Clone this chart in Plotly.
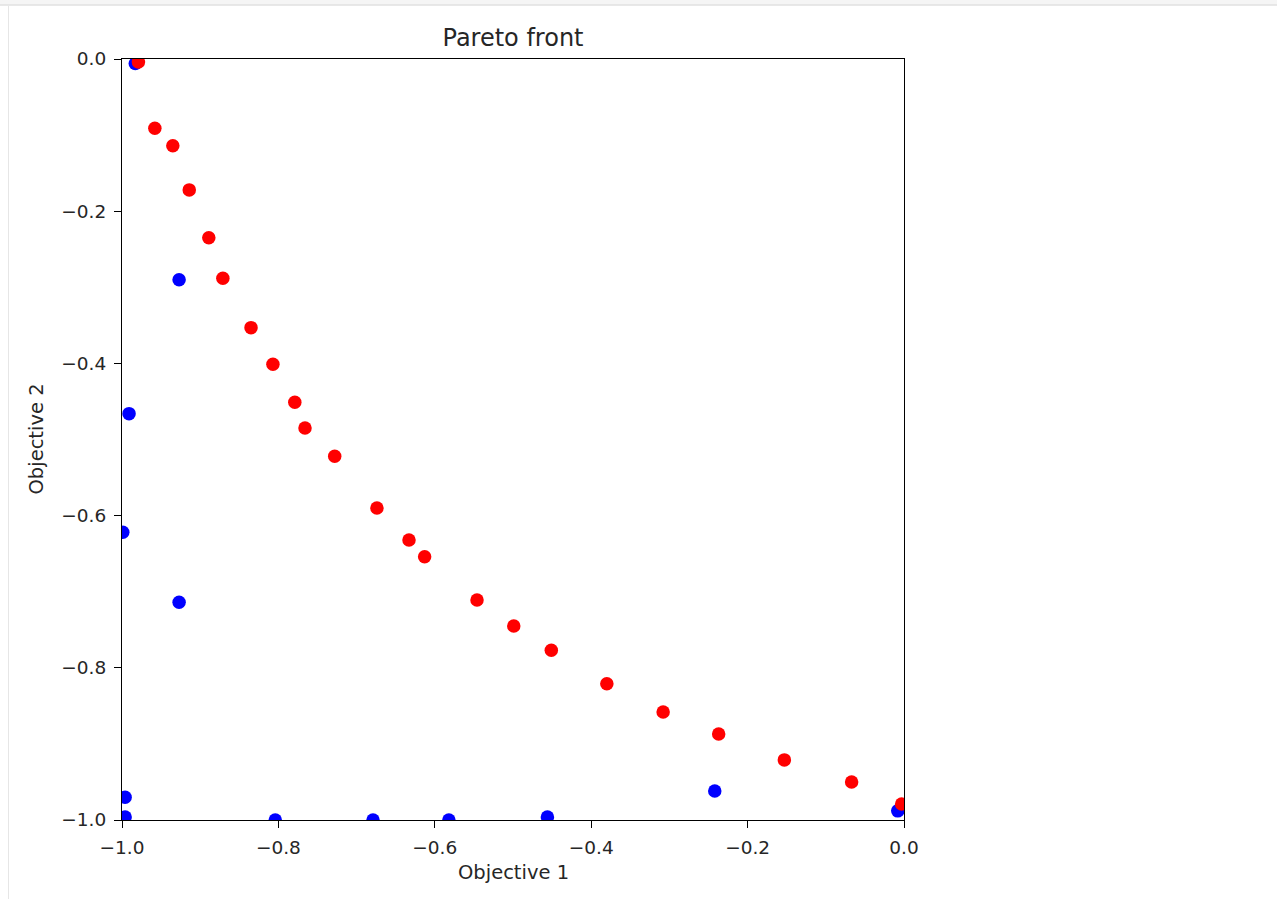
import plotly.graph_objects as go

# Data
blue_x = [-0.983, -0.927, -0.991, -0.999, -0.927, -0.996, -0.996, -0.804, -0.679, -0.582, -0.456, -0.242, -0.008]
blue_y = [-0.006, -0.290, -0.466, -0.622, -0.714, -0.970, -0.996, -1.000, -1.000, -1.000, -0.996, -0.962, -0.988]

red_x = [-0.979, -0.958, -0.935, -0.914, -0.889, -0.871, -0.835, -0.807, -0.779, -0.766, -0.728,
         -0.674, -0.633, -0.613, -0.546, -0.499, -0.451, -0.380, -0.308, -0.237, -0.153, -0.067, -0.003]
red_y = [-0.004, -0.091, -0.114, -0.172, -0.235, -0.288, -0.353, -0.401, -0.451, -0.485, -0.522,
         -0.590, -0.632, -0.654, -0.711, -0.745, -0.777, -0.821, -0.858, -0.887, -0.921, -0.950, -0.979]

tick_vals = [-1.0, -0.8, -0.6, -0.4, -0.2, 0.0]
tick_text = ["\u22121.0", "\u22120.8", "\u22120.6", "\u22120.4", "\u22120.2", "0.0"]

W, H = 1277, 899
L, R, T, B = 122, 904, 59, 820
TXT = "#262626"
FONT = "DejaVu Sans"

fig = go.Figure()
fig.add_trace(go.Scatter(x=blue_x, y=blue_y, mode="markers",
                         marker=dict(color="blue", size=13.5, line=dict(width=0)), showlegend=False))
fig.add_trace(go.Scatter(x=red_x, y=red_y, mode="markers",
                         marker=dict(color="red", size=13.5, line=dict(width=0)), showlegend=False))

axis_common = dict(
    tickmode="array", tickvals=tick_vals, ticktext=tick_text,
    showgrid=False, zeroline=False,
    showline=True, mirror=True, linecolor="black", linewidth=1.1,
    ticks="outside", ticklen=7, tickwidth=1.1, tickcolor="black",
    ticklabelstandoff=4,
    tickfont=dict(family=FONT, size=18.5, color=TXT),
)

fig.update_layout(
    width=W, height=H,
    margin=dict(l=L, r=W - R, t=T, b=H - B, pad=0),
    paper_bgcolor="white", plot_bgcolor="white",
    title=dict(text="Pareto front", x=(L + R) / 2 / W, xanchor="center",
               y=1 - 38 / H, yanchor="middle",
               font=dict(family=FONT, size=24, color=TXT)),
    xaxis=dict(range=[-1, 0], **axis_common),
    yaxis=dict(range=[-1, 0], **axis_common),
    font=dict(family=FONT),
)

fig.add_annotation(text="Objective 1", xref="paper", yref="paper", x=0.5, y=0,
                   xanchor="center", yanchor="middle", yshift=-(872 - B), showarrow=False,
                   font=dict(family=FONT, size=19.5, color=TXT))
fig.add_annotation(text="Objective 2", xref="paper", yref="paper", x=0, y=0.5,
                   xanchor="center", yanchor="middle", xshift=36 - L, textangle=-90,
                   showarrow=False, font=dict(family=FONT, size=19.5, color=TXT))

# Notebook-like frame (light gray top bar and left border)
def px_x(p):
    return (p - L) / (R - L)

def px_y(p):
    return (B - p) / (B - T)

fig.add_shape(type="rect", xref="paper", yref="paper",
              x0=px_x(0), x1=px_x(W), y0=px_y(5), y1=px_y(0),
              fillcolor="#f5f5f5", line=dict(width=0), layer="below")
fig.add_shape(type="line", xref="paper", yref="paper",
              x0=px_x(0), x1=px_x(W), y0=px_y(5), y1=px_y(5),
              line=dict(color="#e0e0e0", width=1.5), layer="below")
fig.add_shape(type="line", xref="paper", yref="paper",
              x0=px_x(8.5), x1=px_x(8.5), y0=px_y(6), y1=px_y(H),
              line=dict(color="#e6e6e6", width=1), layer="below")

fig.write_html("out.html")
